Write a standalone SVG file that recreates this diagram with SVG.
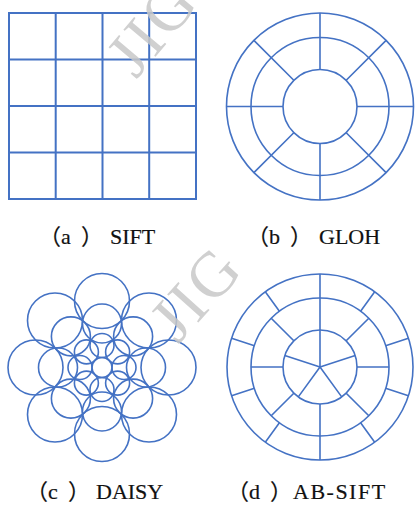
<svg xmlns="http://www.w3.org/2000/svg" width="415" height="505" viewBox="0 0 415 505">
<style>
.ln{fill:none;stroke:#4472C4;stroke-width:1.6}
.grid{fill:none;stroke:#4472C4;stroke-width:2}
.lab{font-family:"Liberation Serif","Noto Sans CJK SC",serif;font-size:22px;fill:#111;stroke:#111;stroke-width:0.2}
.wm{font-family:"Liberation Serif",serif;font-size:64px;fill:#c8c8c8;opacity:0.85;letter-spacing:3px}
</style>
<rect width="415" height="505" fill="#fff"/>
<g id="sift">
<rect class="grid" x="9" y="13" width="187" height="186"/>
<path class="grid" d="M55.7 13V199M102.5 13V199M149.2 13V199M9 59.5H196M9 106H196M9 152.5H196"/>
</g>
<g id="gloh" transform="translate(320,106.5)">
<circle class="ln" r="93.5"/>
<circle class="ln" r="69"/>
<circle class="ln" r="37"/>
<path class="ln" d="M0 -37V-93.5M0 37V93.5M37 0H93.5M-37 0H-93.5M26.2 -26.2L66.1 -66.1M-26.2 -26.2L-66.1 -66.1M26.2 26.2L66.1 66.1M-26.2 26.2L-66.1 66.1"/>
</g>
<g id="daisy" transform="translate(102,367.5)">
<circle class="ln" r="10"/>
<g id="daisy-r1">
<circle class="ln" cx="0" cy="-22" r="12"/><circle class="ln" cx="15.6" cy="-15.6" r="12"/><circle class="ln" cx="22" cy="0" r="12"/><circle class="ln" cx="15.6" cy="15.6" r="12"/><circle class="ln" cx="0" cy="22" r="12"/><circle class="ln" cx="-15.6" cy="15.6" r="12"/><circle class="ln" cx="-22" cy="0" r="12"/><circle class="ln" cx="-15.6" cy="-15.6" r="12"/>
</g>
<g id="daisy-r2">
<circle class="ln" cx="0" cy="-44" r="19.5"/><circle class="ln" cx="31.1" cy="-31.1" r="19.5"/><circle class="ln" cx="44" cy="0" r="19.5"/><circle class="ln" cx="31.1" cy="31.1" r="19.5"/><circle class="ln" cx="0" cy="44" r="19.5"/><circle class="ln" cx="-31.1" cy="31.1" r="19.5"/><circle class="ln" cx="-44" cy="0" r="19.5"/><circle class="ln" cx="-31.1" cy="-31.1" r="19.5"/>
</g>
<g id="daisy-r3">
<circle class="ln" cx="0" cy="-66.5" r="27.5"/><circle class="ln" cx="47" cy="-47" r="27.5"/><circle class="ln" cx="66.5" cy="0" r="27.5"/><circle class="ln" cx="47" cy="47" r="27.5"/><circle class="ln" cx="0" cy="66.5" r="27.5"/><circle class="ln" cx="-47" cy="47" r="27.5"/><circle class="ln" cx="-66.5" cy="0" r="27.5"/><circle class="ln" cx="-47" cy="-47" r="27.5"/>
</g>
</g>
<g id="absift" transform="translate(320,367)">
<circle class="ln" r="93"/>
<circle class="ln" r="69"/>
<circle class="ln" r="37"/>
<path class="ln" d="M0 0V-37M0 0L35.2 -11.4M0 0L21.7 29.9M0 0L-21.7 29.9M0 0L-35.2 -11.4"/>
<path class="ln" d="M0 -37V-69M0 37V69M37 0H69M-37 0H-69M26.2 -26.2L48.8 -48.8M-26.2 -26.2L-48.8 -48.8M26.2 26.2L48.8 48.8M-26.2 26.2L-48.8 48.8"/>
<path class="ln" d="M0 -69V-93M0 69V93M40.6 -55.8L54.7 -75.2M-40.6 -55.8L-54.7 -75.2M40.6 55.8L54.7 75.2M-40.6 55.8L-54.7 75.2M65.6 -21.3L88.4 -28.7M-65.6 -21.3L-88.4 -28.7M65.6 21.3L88.4 28.7M-65.6 21.3L-88.4 28.7"/>
</g>
<g id="labels">
<text class="lab" x="39 61 81" y="244">（a）</text><text class="lab" x="110" y="244">SIFT</text>
<text class="lab" x="247 269 290" y="244">（b）</text><text class="lab" x="319" y="244">GLOH</text>
<text class="lab" x="26 48 68" y="499">（c）</text><text class="lab" x="96" y="499">DAISY</text>
<text class="lab" x="227 249 270" y="499">（d）</text><text class="lab" x="293" y="499" style="letter-spacing:1.5px">AB-SIFT</text>
</g>
<g id="watermark">
<text class="wm" transform="translate(136,80) rotate(-50)">JIG</text>
<text class="wm" transform="translate(178,345) rotate(-48)">JIG</text>
</g>
</svg>
